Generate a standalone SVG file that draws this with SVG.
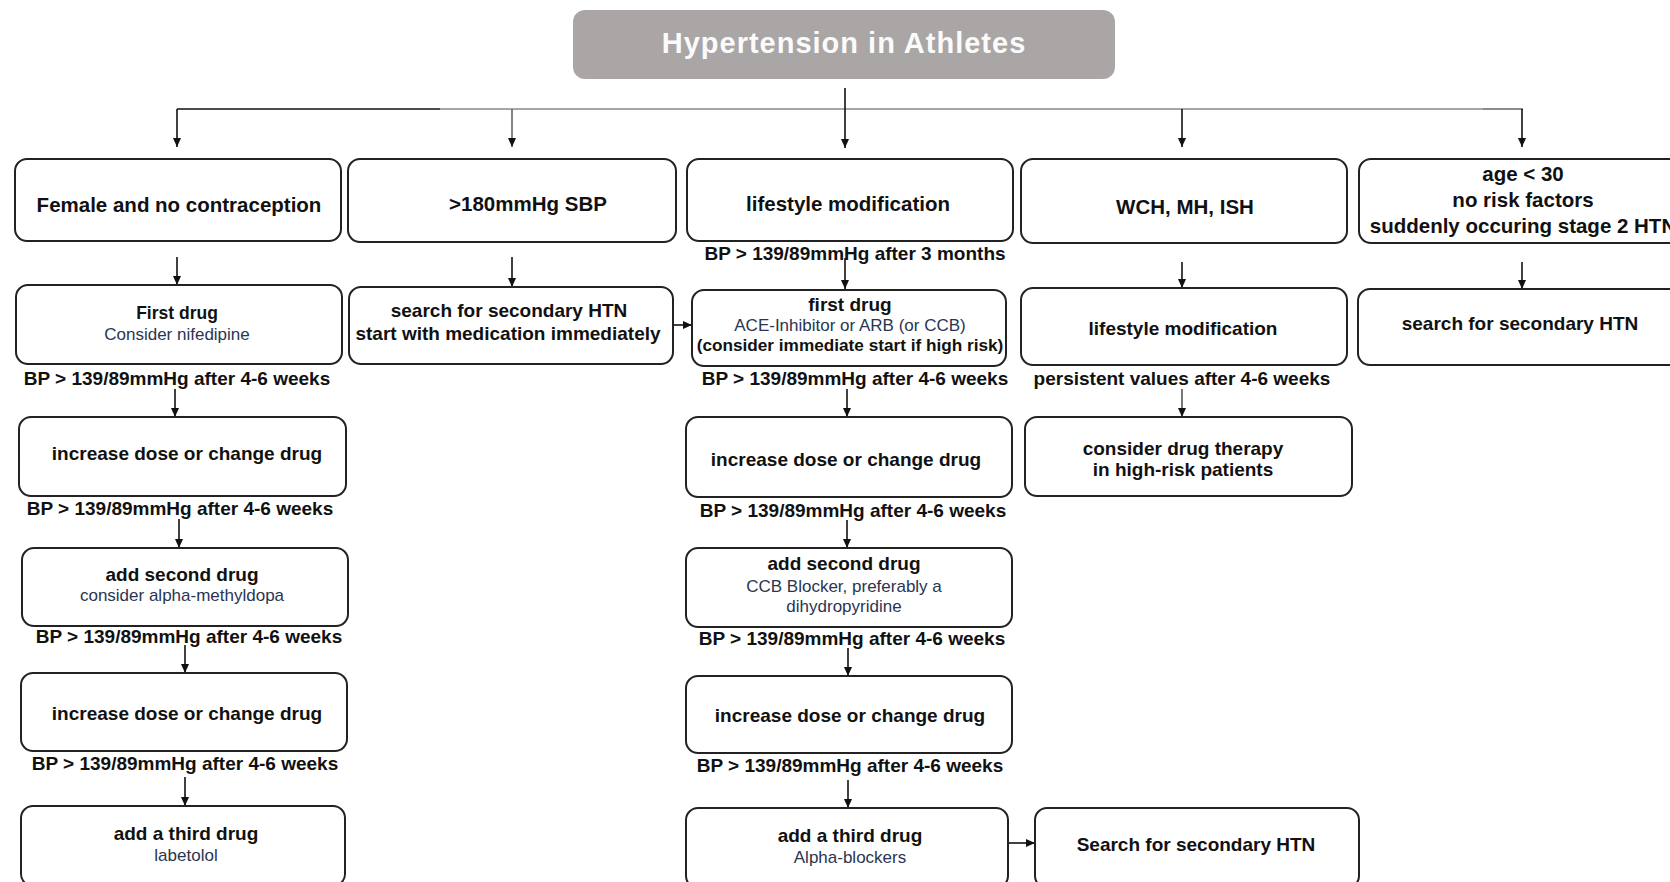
<svg xmlns="http://www.w3.org/2000/svg" width="1670" height="882" viewBox="0 0 1670 882">
<defs>
<marker id="ah" markerWidth="10" markerHeight="10" refX="9" refY="5" orient="auto" markerUnits="userSpaceOnUse">
<path d="M0,1 L9,5 L0,9 Z" fill="#111"/>
</marker>
<style>
.box{fill:#fff;stroke:#222;stroke-width:2}
.t{font-family:"Liberation Sans",Arial,sans-serif;font-weight:bold;fill:#111;text-anchor:middle;dominant-baseline:central}
.big{font-size:20.5px}
.m{font-size:19px}
.s{font-family:"Liberation Sans",Arial,sans-serif;font-weight:normal;fill:#2a3552;text-anchor:middle;dominant-baseline:central;font-size:17px}
.lbl{font-size:19px}
.c{fill:none;stroke:#111;stroke-width:1.6}
</style>
</defs>

<g id="title">
<rect x="573" y="10" width="542" height="69" rx="12" fill="#aaa6a5"/>
<text x="844" y="43" class="t" style="font-size:29px;fill:#fbfbfb;letter-spacing:1px">Hypertension in Athletes</text>
</g>

<g id="connectors">
<line x1="177" y1="109" x2="440" y2="109" stroke="#111" stroke-width="1.6"/>
<line x1="440" y1="109" x2="1483" y2="109" stroke="#a6a6a6" stroke-width="2"/>
<line x1="1483" y1="109" x2="1523" y2="109" stroke="#666" stroke-width="1.6"/>
<line x1="845" y1="88" x2="845" y2="148" class="c" marker-end="url(#ah)"/>
<line x1="177" y1="109" x2="177" y2="147" class="c" marker-end="url(#ah)"/>
<line x1="512" y1="109" x2="512" y2="147" class="c" stroke="#666" marker-end="url(#ah)" style="stroke:#666"/>
<line x1="1182" y1="109" x2="1182" y2="147" class="c" marker-end="url(#ah)"/>
<line x1="1522" y1="109" x2="1522" y2="147" class="c" marker-end="url(#ah)"/>

<line x1="177" y1="257" x2="177" y2="285" class="c" marker-end="url(#ah)"/>
<line x1="512" y1="257" x2="512" y2="287" class="c" marker-end="url(#ah)"/>
<line x1="845" y1="258" x2="845" y2="289" class="c" marker-end="url(#ah)"/>
<line x1="1182" y1="262" x2="1182" y2="288" class="c" marker-end="url(#ah)"/>
<line x1="1522" y1="262" x2="1522" y2="289" class="c" marker-end="url(#ah)"/>

<line x1="672" y1="325" x2="692" y2="325" class="c" marker-end="url(#ah)"/>

<line x1="175" y1="389" x2="175" y2="417" class="c" marker-end="url(#ah)"/>
<line x1="179" y1="519" x2="179" y2="548" class="c" marker-end="url(#ah)"/>
<line x1="185" y1="645" x2="185" y2="673" class="c" marker-end="url(#ah)"/>
<line x1="185" y1="777" x2="185" y2="806" class="c" marker-end="url(#ah)"/>

<line x1="847" y1="389" x2="847" y2="417" class="c" marker-end="url(#ah)"/>
<line x1="847" y1="520" x2="847" y2="548" class="c" marker-end="url(#ah)"/>
<line x1="848" y1="648" x2="848" y2="676" class="c" marker-end="url(#ah)"/>
<line x1="848" y1="780" x2="848" y2="808" class="c" marker-end="url(#ah)"/>

<line x1="1182" y1="389" x2="1182" y2="417" class="c" stroke="#555" style="stroke:#555" marker-end="url(#ah)"/>

<line x1="1008" y1="843" x2="1035" y2="843" class="c" marker-end="url(#ah)"/>
</g>

<g id="n_female">
<rect x="15" y="159" width="326" height="82" rx="12" class="box"/>
<text x="179" y="204" class="t big">Female and no contraception</text>
</g>
<g id="n_sbp">
<rect x="348" y="159" width="328" height="83" rx="12" class="box"/>
<text x="528" y="203" class="t big">&gt;180mmHg SBP</text>
</g>
<g id="n_lifestyle">
<rect x="687" y="159" width="326" height="82" rx="12" class="box"/>
<text x="848" y="203" class="t big">lifestyle modification</text>
</g>
<g id="n_wch">
<rect x="1021" y="159" width="326" height="84" rx="12" class="box"/>
<text x="1185" y="206" class="t big">WCH, MH, ISH</text>
</g>
<g id="n_age">
<rect x="1359" y="159" width="330" height="84" rx="12" class="box"/>
<text x="1523" y="173" class="t big">age &lt; 30</text>
<text x="1523" y="199" class="t big">no risk factors</text>
<text x="1523" y="225" class="t big">suddenly occuring stage 2 HTN</text>
</g>

<g id="lbl_3m">
<text x="855" y="253" class="t lbl">BP &gt; 139/89mmHg after 3 months</text>
</g>

<g id="n_first_f">
<rect x="16" y="285" width="326" height="79" rx="12" class="box"/>
<text x="177" y="313" class="t" style="font-size:17.5px">First drug</text>
<text x="177" y="334" class="s">Consider nifedipine</text>
</g>
<g id="n_search2">
<rect x="349" y="287" width="324" height="77" rx="12" class="box"/>
<text x="509" y="310" class="t m">search for secondary HTN</text>
<text x="508" y="333" class="t m">start with medication immediately</text>
</g>
<g id="n_first_c">
<rect x="692" y="290" width="314" height="76" rx="12" class="box"/>
<text x="850" y="304" class="t m">first drug</text>
<text x="850" y="325" class="s">ACE-Inhibitor or ARB (or CCB)</text>
<text x="850" y="345" class="t" style="font-size:17.2px">(consider immediate start if high risk)</text>
</g>
<g id="n_lifestyle2">
<rect x="1021" y="288" width="326" height="77" rx="12" class="box"/>
<text x="1183" y="328" class="t m">lifestyle modification</text>
</g>
<g id="n_search5">
<rect x="1358" y="289" width="330" height="76" rx="12" class="box"/>
<text x="1520" y="323" class="t m">search for secondary HTN</text>
</g>

<g id="labels_row2">
<text x="177" y="378" class="t lbl">BP &gt; 139/89mmHg after 4-6 weeks</text>
<text x="855" y="378" class="t lbl">BP &gt; 139/89mmHg after 4-6 weeks</text>
<text x="1182" y="378" class="t lbl">persistent values after 4-6 weeks</text>
</g>

<g id="n_inc1_f">
<rect x="19" y="417" width="327" height="79" rx="12" class="box"/>
<text x="187" y="453" class="t m">increase dose or change drug</text>
</g>
<g id="n_inc1_c">
<rect x="686" y="417" width="326" height="80" rx="12" class="box"/>
<text x="846" y="459" class="t m">increase dose or change drug</text>
</g>
<g id="n_consider">
<rect x="1025" y="417" width="327" height="79" rx="12" class="box"/>
<text x="1183" y="448" class="t m">consider drug therapy</text>
<text x="1183" y="469" class="t m">in high-risk patients</text>
</g>

<g id="labels_row3">
<text x="180" y="508" class="t lbl">BP &gt; 139/89mmHg after 4-6 weeks</text>
<text x="853" y="510" class="t lbl">BP &gt; 139/89mmHg after 4-6 weeks</text>
</g>

<g id="n_second_f">
<rect x="22" y="548" width="326" height="78" rx="12" class="box"/>
<text x="182" y="574" class="t m">add second drug</text>
<text x="182" y="595" class="s">consider alpha-methyldopa</text>
</g>
<g id="n_second_c">
<rect x="686" y="548" width="326" height="79" rx="12" class="box"/>
<text x="844" y="563" class="t m">add second drug</text>
<text x="844" y="586" class="s">CCB Blocker, preferably a</text>
<text x="844" y="606" class="s">dihydropyridine</text>
</g>

<g id="labels_row4">
<text x="189" y="636" class="t lbl">BP &gt; 139/89mmHg after 4-6 weeks</text>
<text x="852" y="638" class="t lbl">BP &gt; 139/89mmHg after 4-6 weeks</text>
</g>

<g id="n_inc2_f">
<rect x="21" y="673" width="326" height="78" rx="12" class="box"/>
<text x="187" y="713" class="t m">increase dose or change drug</text>
</g>
<g id="n_inc2_c">
<rect x="686" y="676" width="326" height="77" rx="12" class="box"/>
<text x="850" y="715" class="t m">increase dose or change drug</text>
</g>

<g id="labels_row5">
<text x="185" y="763" class="t lbl">BP &gt; 139/89mmHg after 4-6 weeks</text>
<text x="850" y="765" class="t lbl">BP &gt; 139/89mmHg after 4-6 weeks</text>
</g>

<g id="n_third_f">
<rect x="21" y="806" width="324" height="80" rx="12" class="box"/>
<text x="186" y="833" class="t m">add a third drug</text>
<text x="186" y="855" class="s">labetolol</text>
</g>
<g id="n_third_c">
<rect x="686" y="808" width="322" height="80" rx="12" class="box"/>
<text x="850" y="835" class="t m">add a third drug</text>
<text x="850" y="857" class="s">Alpha-blockers</text>
</g>
<g id="n_search_bottom">
<rect x="1035" y="808" width="324" height="80" rx="12" class="box"/>
<text x="1196" y="844" class="t m">Search for secondary HTN</text>
</g>
</svg>
